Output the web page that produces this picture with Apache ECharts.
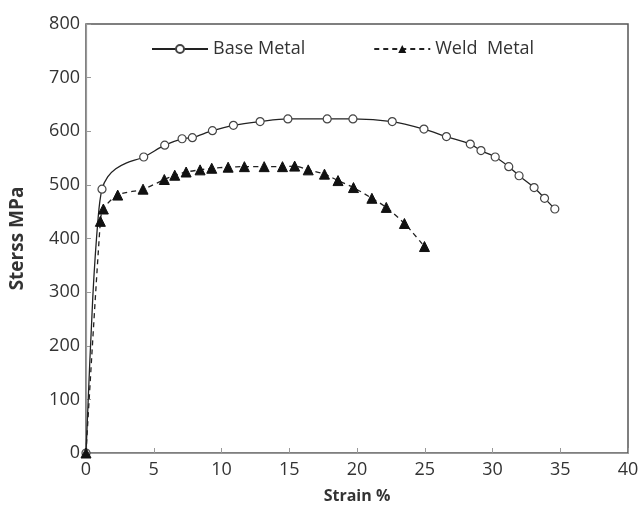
<!DOCTYPE html>
<html><head><meta charset="utf-8">
<script src="https://cdn.jsdelivr.net/npm/echarts@6/dist/echarts.min.js"></script>
<style>html,body{margin:0;padding:0;background:#fff}#c{width:644px;height:509px}</style>
</head><body><div id="c"></div>
<script>
// Base metal: [strain %, stress MPa, marked?]
const baseStrain = [0, 0.5, 0.9, 1.18, 1.6, 2.2, 3.0, 4.26, 5.81, 7.09, 7.85, 9.33, 10.88, 12.85, 14.9, 17.8, 19.7, 22.6, 24.94, 26.6, 28.36, 29.15, 30.2, 31.2, 31.96, 33.07, 33.84, 34.6];
const baseStress = [0, 290, 440, 492, 515, 530, 541, 552, 574, 586, 588, 601, 611, 618, 623, 623, 623, 618, 604, 590, 576, 564, 552, 534, 517, 495, 475, 455];
const baseMarked = [1, 0, 0, 1, 0, 0, 0, 1, 1, 1, 1, 1, 1, 1, 1, 1, 1, 1, 1, 1, 1, 1, 1, 1, 1, 1, 1, 1];
// Weld metal
const weldStrain = [0, 1.06, 1.28, 2.34, 4.21, 5.78, 6.55, 7.39, 8.42, 9.28, 10.49, 11.69, 13.15, 14.5, 15.4, 16.4, 17.6, 18.6, 19.74, 21.1, 22.16, 23.5, 24.98];
const weldStress = [0, 432, 455, 481, 492, 510, 518, 524, 528, 531, 533, 534, 534, 534, 535, 528, 520, 508, 495, 475, 458, 428, 385];
const xTicks = [0, 5, 10, 15, 20, 25, 30, 35, 40];
const yTicks = [0, 100, 200, 300, 400, 500, 600, 700, 800];

const baseData = baseStrain.map((x, i) => baseMarked[i] ? [x, baseStress[i]] : {value: [x, baseStress[i]], symbol: 'none'});
const weldData = weldStrain.map((x, i) => [x, weldStress[i]]);

const chart = echarts.init(document.getElementById('c'));
const F = 'Open Sans';
chart.setOption({
  animation: false,
  backgroundColor: '#fff',
  grid: {left: 86, right: 16, top: 24, bottom: 56, show: true, borderColor: '#555', borderWidth: 1.5},
  legend: {
    top: 35, left: 146, itemWidth: 56, itemHeight: 10, itemGap: 68,
    textStyle: {fontFamily: F, fontSize: 18, color: '#333'},
    data: ['Base Metal', 'Weld  Metal']
  },
  xAxis: {
    type: 'value', min: 0, max: 40, interval: 5,
    name: 'Strain %', nameLocation: 'middle', nameGap: 35,
    nameTextStyle: {fontFamily: F, fontSize: 16, fontWeight: 'bold', color: '#333'},
    axisLine: {lineStyle: {color: '#999', width: 1.2}},
    axisTick: {inside: true, length: 5, lineStyle: {color: '#999'}},
    axisLabel: {fontFamily: F, fontSize: 18, color: '#333', margin: 8,
      formatter: v => xTicks.includes(v) ? String(v) : ''},
    splitLine: {show: false}
  },
  yAxis: {
    type: 'value', min: 0, max: 800, interval: 100,
    name: 'Sterss MPa', nameLocation: 'middle', nameGap: 59, nameRotate: 90,
    nameTextStyle: {fontFamily: F, fontSize: 19, fontWeight: 'bold', color: '#333'},
    axisLine: {show: true, lineStyle: {color: '#999', width: 1.2}},
    axisTick: {show: true, inside: true, length: 5, lineStyle: {color: '#999'}},
    axisLabel: {fontFamily: F, fontSize: 18, color: '#333', margin: 6,
      formatter: v => yTicks.includes(v) ? String(v) : ''},
    splitLine: {show: false}
  },
  series: [
    {
      name: 'Base Metal', type: 'line', data: baseData, smooth: 0.3,
      symbol: 'circle', symbolSize: 8, showAllSymbol: true,
      lineStyle: {color: '#222', width: 1.3},
      itemStyle: {color: '#fff', borderColor: '#444', borderWidth: 1.2}
    },
    {
      name: 'Weld  Metal', type: 'line', data: weldData, smooth: 0.3,
      symbol: 'triangle', symbolSize: 10, showAllSymbol: true,
      lineStyle: {color: '#222', width: 1.3, type: [5, 4]},
      itemStyle: {color: '#111', borderColor: '#111'}
    }
  ]
});
</script></body></html>
